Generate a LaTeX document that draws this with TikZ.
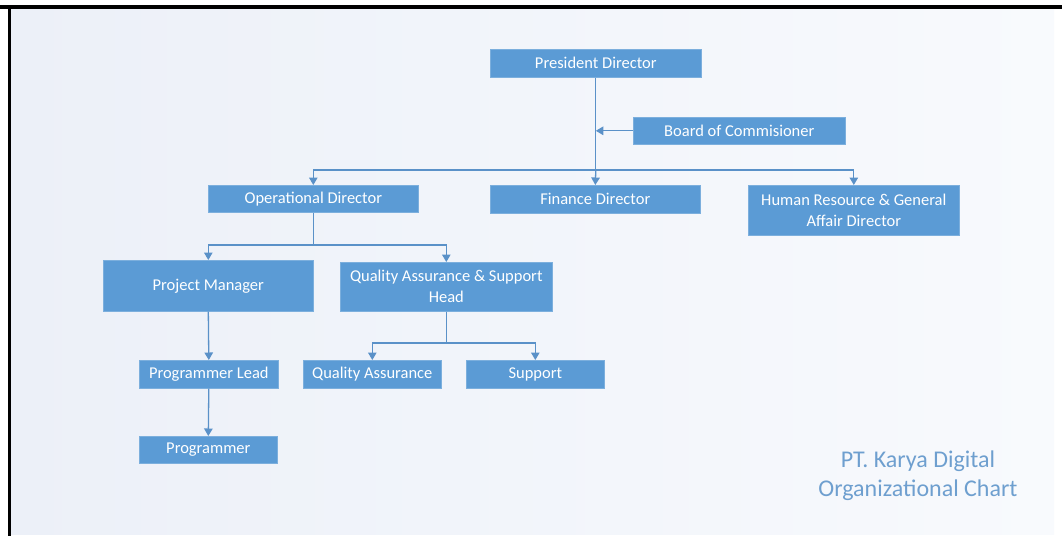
\documentclass[tikz,border=0pt]{standalone}
\usepackage{fontspec}
\setmainfont{Carlito}
\usetikzlibrary{arrows.meta}
\definecolor{boxblue}{HTML}{5B9BD5}
\definecolor{lineblue}{HTML}{5A91C8}
\definecolor{titleblue}{HTML}{6E9FCF}
\definecolor{bgleft}{HTML}{ECF0F8}
\definecolor{bgright}{HTML}{F8FAFD}
\tikzset{
  orgbox/.style={fill=boxblue, draw=boxblue!80!white, line width=0.6pt, text=white,
    font=\fontsize{16.5}{21}\selectfont, align=center, inner sep=0pt, anchor=north west},
  conn/.style={draw=lineblue, line width=1.3pt},
  arr/.style={conn, -{Triangle[width=8.5pt,length=7.5pt]}},
}
\newcommand{\orgnode}[6]{% name, x1, y1, x2, y2, text
  \node[orgbox, minimum width={#4-#2}, minimum height={#5-#3}] (#1) at (#2,#3) {#6};}
\begin{document}
\begin{tikzpicture}[x=1pt,y=-1pt]
\useasboundingbox (0,0) rectangle (1062,536);
\fill[white] (0,0) rectangle (1062,536);
\shade[left color=bgleft, right color=bgright] (10,7) rectangle (1054,534);
\fill[black] (0,5) rectangle (1062,8.5);
\fill[black] (7.5,5) rectangle (11,536);
% boxes
\orgnode{pres}{490}{49}{701}{77}{President Director}
\orgnode{board}{633}{117}{845}{144}{Board of Commisioner}
\orgnode{ops}{208}{185}{418}{212}{Operational Director}
\orgnode{fin}{490}{185}{700}{213}{Finance Director}
\orgnode{hr}{748}{185}{959}{235}{Human Resource \& General\\Affair Director}
\orgnode{pm}{103}{260}{313}{311}{Project Manager}
\orgnode{qah}{340}{262}{552}{311}{Quality Assurance \& Support\\Head}
\orgnode{pl}{139}{360}{278}{388}{Programmer Lead}
\orgnode{qa}{303}{360}{441}{388}{Quality Assurance}
\orgnode{sup}{466}{360}{604}{388}{Support}
\orgnode{prog}{139}{436}{277}{463}{Programmer}
% connectors
\coordinate (j1) at (pres.south |- 0,170);
\coordinate (b1) at (pres.south |- board.west);
\draw[conn] (pres.south) -- (j1);
\draw[arr] (board.west) -- (b1);
\draw[arr] (j1) -| (ops.north);
\draw[arr] (j1) -- (fin.north);
\draw[arr] (j1) -| (hr.north);
\coordinate (j2) at (ops.south |- 0,245);
\draw[conn] (ops.south) -- (j2);
\draw[arr] (j2) -| (pm.north);
\draw[arr] (j2) -| (qah.north);
\draw[arr] (pm.south) -- (pl.north);
\draw[arr] (pl.south) -- (prog.north);
\coordinate (j3) at (qah.south |- 0,343);
\draw[conn] (qah.south) -- (j3);
\draw[arr] (j3) -| (qa.north);
\draw[arr] (j3) -| (sup.north);
% title
\node[text=titleblue, font=\fontsize{24}{29}\selectfont, align=center] (title) at (918,476) {PT. Karya Digital\\Organizational Chart};
\end{tikzpicture}
\end{document}
